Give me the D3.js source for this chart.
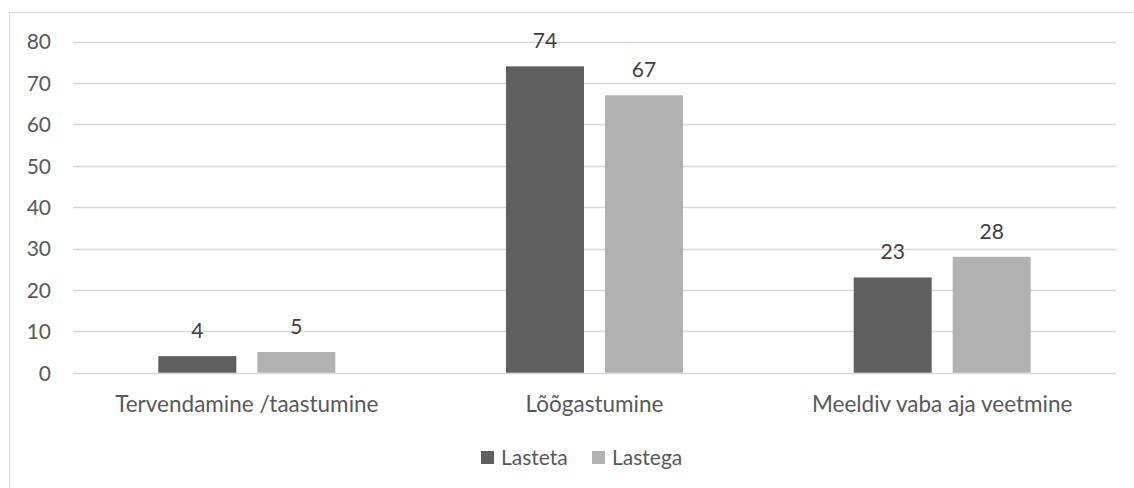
<!DOCTYPE html>
<html>
<head>
<meta charset="utf-8">
<script src="https://cdn.jsdelivr.net/npm/d3@7"></script>
<style>
  html, body { margin: 0; padding: 0; background: #fff; }
  svg { display: block; }
  text { font-family: Lato, "Open Sans", sans-serif; fill: #595959; }
</style>
</head>
<body>
<svg id="chart" width="1134" height="488"></svg>
<script>
const categories = ["Tervendamine /taastumine", "Lõõgastumine", "Meeldiv vaba aja veetmine"];
const seriesNames = ["Lasteta", "Lastega"];
const lastetaValues = [4, 74, 23];
const lastegaValues = [5, 67, 28];
const yTicks = [0, 10, 20, 30, 40, 50, 60, 70, 80];
const colors = ["#5f5f5f", "#b1b1b1"];

const svg = d3.select("#chart");
const fontSize = 21;

// outer chart border
svg.append("rect")
  .attr("x", 9.5).attr("y", 12.5)
  .attr("width", 1134).attr("height", 488)
  .attr("fill", "none").attr("stroke", "#d9d9d9").attr("stroke-width", 1);

const plot = { left: 73, right: 1116, top: 41.5, bottom: 372.7 };

const x0 = d3.scaleBand().domain(categories).range([plot.left, plot.right]).paddingInner(0).paddingOuter(0);
const y = d3.scaleLinear().domain([0, 80]).range([plot.bottom, plot.top]);

// gridlines
svg.append("g").selectAll("line").data(yTicks).join("line")
  .attr("x1", plot.left).attr("x2", plot.right)
  .attr("y1", d => Math.round(y(d)) + 0.5).attr("y2", d => Math.round(y(d)) + 0.5)
  .attr("stroke", "#d9d9d9").attr("stroke-width", 1.3);

// y axis labels
const yAxis = d3.axisLeft(y).tickValues(yTicks).tickSize(0).tickPadding(0);
const gy = svg.append("g").attr("transform", `translate(51,0)`).call(yAxis);
gy.select(".domain").remove();
gy.selectAll("text").attr("font-size", fontSize).attr("dy", "0.35em").style("font-family", "Lato").attr("fill", "#595959");

// bars
const barW = 78, gap = 21;
const rows = categories.map((c, i) => ({ cat: c, vals: [lastetaValues[i], lastegaValues[i]] }));

const groups = svg.append("g").selectAll("g").data(rows).join("g")
  .attr("transform", d => `translate(${x0(d.cat) + x0.bandwidth() / 2 - (2 * barW + gap) / 2},0)`);

groups.selectAll("rect").data(d => d.vals.map((v, j) => ({ s: seriesNames[j], v, j }))).join("rect")
  .attr("x", d => d.j * (barW + gap))
  .attr("width", barW)
  .attr("y", d => y(d.v))
  .attr("height", d => y(0) - y(d.v))
  .attr("fill", d => colors[d.j]);

groups.selectAll("text").data(d => d.vals.map((v, j) => ({ v, j }))).join("text")
  .attr("x", d => d.j * (barW + gap) + barW / 2)
  .attr("y", d => y(d.v) - 18)
  .attr("text-anchor", "middle")
  .attr("font-size", fontSize)
  .style("fill", "#404040")
  .text(d => d.v);

// x axis labels
const xAxis = d3.axisBottom(x0).tickSize(0).tickPadding(0);
const gx = svg.append("g").attr("transform", `translate(0,${plot.bottom})`).call(xAxis);
gx.select(".domain").remove();
gx.selectAll("text").attr("font-size", 22.5).attr("dy", 0).attr("y", 39).style("font-family", "Lato").attr("fill", "#595959");

// legend
const legendItems = [{ name: seriesNames[0], x: 481 }, { name: seriesNames[1], x: 592 }];
const lg = svg.append("g").selectAll("g").data(legendItems).join("g")
  .attr("transform", d => `translate(${d.x},451)`);
lg.append("rect").attr("width", 13).attr("height", 13).attr("fill", (d, i) => colors[i]);
lg.append("text").attr("x", 20).attr("y", 14).attr("font-size", fontSize).text(d => d.name);
</script>
</body>
</html>
